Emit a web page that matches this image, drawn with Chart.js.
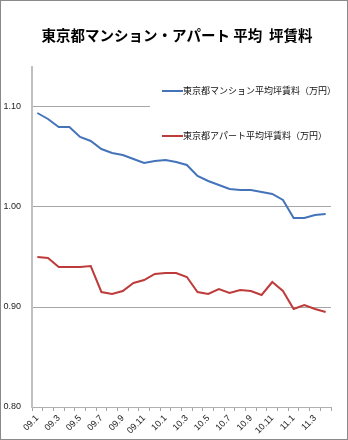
<!DOCTYPE html>
<html lang="ja">
<head>
<meta charset="utf-8">
<script src="https://cdn.jsdelivr.net/npm/chart.js@4"></script>
<style>
  html, body { margin: 0; padding: 0; background: #fff; }
  #wrap { width: 348px; height: 440px; position: relative; }
</style>
</head>
<body>
<div id="wrap"><canvas id="c" width="348" height="440"></canvas></div>
<script>
// 月次の平均坪賃料（万円）
const months = [
  '09.1','09.2','09.3','09.4','09.5','09.6','09.7','09.8','09.9','09.10','09.11','09.12',
  '10.1','10.2','10.3','10.4','10.5','10.6','10.7','10.8','10.9','10.10','10.11','10.12',
  '11.1','11.2','11.3','11.4'
];
const mansion = [
  1.094, 1.088, 1.080, 1.080, 1.070, 1.066, 1.058, 1.054, 1.052, 1.048, 1.044, 1.046,
  1.047, 1.045, 1.042, 1.031, 1.026, 1.022, 1.018, 1.017, 1.017, 1.015, 1.013, 1.007,
  0.989, 0.989, 0.992, 0.993
];
const apart = [
  0.950, 0.949, 0.940, 0.940, 0.940, 0.941, 0.915, 0.913, 0.916, 0.924, 0.927, 0.933,
  0.934, 0.934, 0.930, 0.915, 0.913, 0.918, 0.914, 0.917, 0.916, 0.912, 0.925, 0.916,
  0.898, 0.902, 0.898, 0.895
];
const yTicks = [0.80, 0.90, 1.00, 1.10];
const seriesNames = ['東京都マンション平均坪賃料（万円）', '東京都アパート平均坪賃料（万円）'];
const titleText = '東京都マンション・アパート 平均  坪賃料';

const BLUE = '#4473BA';
const RED = '#BE3B3B';
const CJK = '"Noto Sans CJK JP", "Noto Sans", sans-serif';
const LATIN = '"Liberation Sans", Arial, sans-serif';

// 見出し・凡例・外枠
const decorations = {
  id: 'decorations',
  beforeDatasetsDraw(chart) {
    const ctx = chart.ctx;
    ctx.save();
    // 凡例：プロット右上に白い枠を敷いて描く
    ctx.fillStyle = '#fff';
    ctx.fillRect(150, 69, 190, 78);
    const items = [
      { text: seriesNames[0], color: BLUE, y: 91 },
      { text: seriesNames[1], color: RED, y: 136 }
    ];
    ctx.font = '9px ' + CJK;
    ctx.textBaseline = 'middle';
    ctx.textAlign = 'left';
    items.forEach(it => {
      ctx.strokeStyle = it.color;
      ctx.lineWidth = 2;
      ctx.beginPath();
      ctx.moveTo(162, it.y);
      ctx.lineTo(183, it.y);
      ctx.stroke();
      ctx.fillStyle = '#111';
      ctx.fillText(it.text, 183, it.y);
    });
    ctx.restore();
  },
  afterDraw(chart) {
    const ctx = chart.ctx;
    ctx.save();
    ctx.font = 'bold 14.5px ' + CJK;
    ctx.fillStyle = '#000';
    ctx.textAlign = 'center';
    ctx.textBaseline = 'middle';
    ctx.fillText(titleText, 177, 35);
    ctx.strokeStyle = '#8a8a8a';
    ctx.lineWidth = 1;
    ctx.strokeRect(0.5, 0.5, chart.width - 1, chart.height - 1);
    ctx.restore();
  }
};

new Chart(document.getElementById('c'), {
  type: 'line',
  data: {
    labels: months,
    datasets: [
      { label: seriesNames[0], data: mansion, borderColor: BLUE, backgroundColor: BLUE,
        borderWidth: 2, pointRadius: 0, tension: 0 },
      { label: seriesNames[1], data: apart, borderColor: RED, backgroundColor: RED,
        borderWidth: 2, pointRadius: 0, tension: 0 }
    ]
  },
  options: {
    responsive: false,
    animation: false,
    devicePixelRatio: 1,
    layout: { padding: { top: 67, left: 0, right: 17, bottom: 0 } },
    plugins: {
      legend: { display: false },
      tooltip: { enabled: false },
      title: { display: false }
    },
    scales: {
      x: {
        type: 'category',
        offset: true,
        grid: { offset: true, drawOnChartArea: false, drawTicks: true, tickLength: 4, color: '#a6a6a6' },
        border: { color: '#b0b0b0', width: 1 },
        ticks: {
          autoSkip: false,
          maxRotation: 45,
          minRotation: 45,
          padding: 2,
          color: '#222',
          font: { family: LATIN, size: 9 },
          callback: (v, i) => (i % 2 === 0 ? months[i] : '')
        },
        afterFit: s => { s.height = 33; }
      },
      y: {
        min: 0.80,
        max: 1.14,
        afterBuildTicks: s => { s.ticks = yTicks.map(v => ({ value: v })); },
        grid: { color: '#a6a6a6', lineWidth: 1, drawTicks: false },
        border: { color: '#c0c0c0', width: 2 },
        ticks: {
          padding: 11,
          color: '#222',
          font: { family: LATIN, size: 9 },
          callback: v => Number(v).toFixed(2)
        },
        afterFit: s => { s.width = 32; }
      }
    }
  },
  plugins: [decorations]
});
</script>
</body>
</html>
